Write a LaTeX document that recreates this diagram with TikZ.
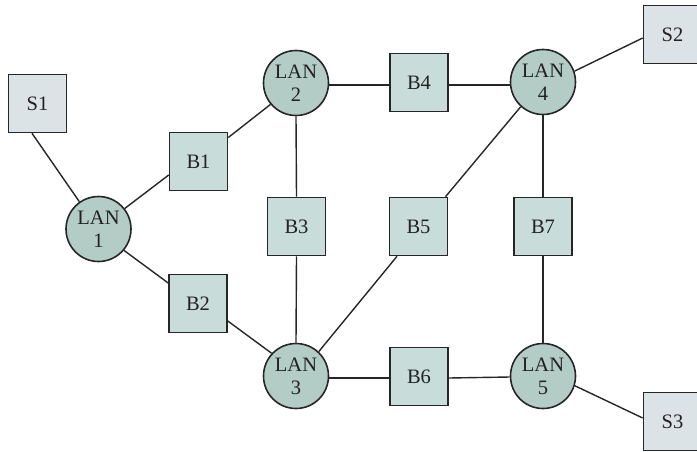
\documentclass[tikz,border=0pt]{standalone}
\usepackage{fontspec}
\setmainfont{Liberation Serif}
\definecolor{linec}{HTML}{262626}
\definecolor{textc}{HTML}{222222}
\definecolor{lanfill}{HTML}{B3CCC5}
\definecolor{bfill}{HTML}{C8DCD9}
\definecolor{sfill}{HTML}{DCE3E6}
\begin{document}
\begin{tikzpicture}[x=1pt,y=-1pt,
  base/.style={draw=linec, line width=1.6pt, inner sep=0pt, align=center, text=textc,
    font=\fontsize{20.5}{23}\selectfont},
  lan/.style={base, circle, fill=lanfill, minimum size=65pt},
  bridge/.style={base, rectangle, fill=bfill, minimum size=58pt},
  station/.style={base, rectangle, fill=sfill, minimum size=58pt},
  conn/.style={draw=linec, line width=1.4pt}]
\useasboundingbox (0,0) rectangle (697,451);
\node[station] (S1) at (37.5,103.5) {S1};
\node[station] (S2) at (672.5,34.5) {S2};
\node[station] (S3) at (672.5,421.5) {S3};
\node[lan] (LAN1) at (98.5,229) {LAN\\1};
\node[lan] (LAN2) at (296,83) {LAN\\2};
\node[lan] (LAN3) at (296,376) {LAN\\3};
\node[lan] (LAN4) at (543,82) {LAN\\4};
\node[lan] (LAN5) at (543,376) {LAN\\5};
\node[bridge] (B1) at (198.5,161.5) {B1};
\node[bridge] (B2) at (198,303.5) {B2};
\node[bridge] (B3) at (296.5,226.5) {B3};
\node[bridge] (B4) at (419,82.5) {B4};
\node[bridge] (B5) at (418.5,226.5) {B5};
\node[bridge] (B6) at (419,376.5) {B6};
\node[bridge] (B7) at (543,226.5) {B7};
\draw[conn] ([xshift=-5.5pt]S1.south) -- (LAN1.125);
\draw[conn] (LAN1.38) -- ([yshift=-13.5pt]B1.west);
\draw[conn] ([yshift=24pt]B1.east) -- (LAN2.220);
\draw[conn] (LAN1.-40) -- ([yshift=20.5pt]B2.west);
\draw[conn] ([yshift=-17.5pt]B2.east) -- (LAN3.137.5);
\draw[conn] (LAN2.south) -- (B3.north);
\draw[conn] (B3.south) -- (LAN3.north);
\draw[conn] ([yshift=-2pt]LAN2.east) -- ([yshift=-2.5pt]B4.west);
\draw[conn] ([yshift=-2.5pt]B4.east) -- ([yshift=-3pt]LAN4.west);
\draw[conn] (LAN3.47) -- ([xshift=-21.5pt]B5.south);
\draw[conn] ([xshift=27pt]B5.north) -- (LAN4.228.5);
\draw[conn] (LAN4.south) -- (B7.north);
\draw[conn] (B7.south) -- (LAN5.north);
\draw[conn] ([yshift=-2pt]LAN3.east) -- ([yshift=-1.5pt]B6.west);
\draw[conn] ([yshift=-1.5pt]B6.east) -- ([yshift=-1pt]LAN5.west);
\draw[conn] (LAN4.19) -- ([yshift=-3.5pt]S2.west);
\draw[conn] (LAN5.-17) -- ([yshift=3.5pt]S3.west);
\end{tikzpicture}
\end{document}
